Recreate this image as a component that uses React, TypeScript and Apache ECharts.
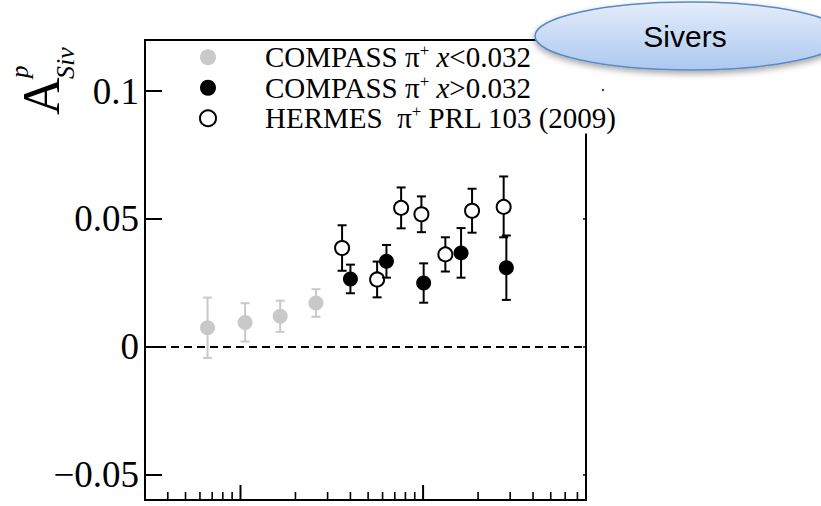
import React, { useEffect, useRef } from 'react';
import * as echarts from 'echarts';

// Axis ranges (x is log-scaled Bjorken x, y is the Sivers asymmetry)
const X_MIN = 0.003;
const X_MAX = 0.78;
const Y_MIN = -0.06;
const Y_MAX = 0.12;

// COMPASS pi+ , x < 0.032
const compassLowX = [0.0066, 0.0106, 0.0165, 0.0259];
const compassLowA = [0.0074, 0.0095, 0.0119, 0.0171];
const compassLowErr = [0.0118, 0.0075, 0.0061, 0.0054];

// COMPASS pi+ , x > 0.032
const compassHighX = [0.04, 0.063, 0.1007, 0.1614, 0.2857];
const compassHighA = [0.0265, 0.0334, 0.0249, 0.0367, 0.0309];
const compassHighErr = [0.0056, 0.0064, 0.0077, 0.0097, 0.0126];

// HERMES pi+ , PRL 103 (2009)
const hermesX = [0.036, 0.056, 0.0758, 0.0979, 0.1324, 0.1854, 0.2762];
const hermesA = [0.0386, 0.0263, 0.0543, 0.0518, 0.0361, 0.0532, 0.0547];
const hermesErr = [0.0089, 0.007, 0.008, 0.007, 0.0067, 0.0086, 0.0119];

const yTickValues = [-0.05, 0, 0.05, 0.1];
const xMajorTicks = [0.01, 0.1];
const xMinorTicks = [
  0.004, 0.005, 0.006, 0.007, 0.008, 0.009,
  0.02, 0.03, 0.04, 0.05, 0.06, 0.07, 0.08, 0.09,
  0.2, 0.3, 0.4, 0.5, 0.6, 0.7,
];

const seriesNames = [
  'COMPASS π+ x<0.032',
  'COMPASS π+ x>0.032',
  'HERMES  π+ PRL 103 (2009)',
];
const legendLabels = [
  'COMPASS π{s|+} {i|x}<0.032',
  'COMPASS π{s|+} {i|x}>0.032',
  'HERMES  π{s|+} PRL 103 (2009)',
];

const GREY = '#c9c9c9';
const SERIF = '"Liberation Serif", "Times New Roman", serif';

function errorBars(xs: number[], ys: number[], es: number[], color: string, z: number) {
  return {
    type: 'custom',
    z,
    silent: true,
    data: xs.map((x, i) => [x, ys[i], es[i]]),
    encode: { x: 0, y: 1 },
    renderItem: (_params: any, api: any) => {
      const x = api.value(0);
      const y = api.value(1);
      const e = api.value(2);
      const hi = api.coord([x, y + e]);
      const lo = api.coord([x, y - e]);
      const cap = 4.5;
      const style = { stroke: color, lineWidth: 2 };
      return {
        type: 'group',
        children: [
          { type: 'line', shape: { x1: hi[0], y1: hi[1], x2: lo[0], y2: lo[1] }, style },
          { type: 'line', shape: { x1: hi[0] - cap, y1: hi[1], x2: hi[0] + cap, y2: hi[1] }, style },
          { type: 'line', shape: { x1: lo[0] - cap, y1: lo[1], x2: lo[0] + cap, y2: lo[1] }, style },
        ],
      };
    },
  };
}

function bottomTicks(values: number[], len: number, width: number) {
  return {
    type: 'custom',
    z: 1,
    silent: true,
    data: values.map((v) => [v, Y_MIN]),
    encode: { x: 0, y: 1 },
    renderItem: (_params: any, api: any) => {
      const p = api.coord([api.value(0), api.value(1)]);
      return {
        type: 'line',
        shape: { x1: p[0], y1: p[1], x2: p[0], y2: p[1] - len },
        style: { stroke: '#000', lineWidth: width },
      };
    },
  };
}

export default function App() {
  const ref = useRef<HTMLDivElement>(null);

  useEffect(() => {
    if (!ref.current) return;
    const chart = echarts.init(ref.current, undefined, { renderer: 'svg' });

    const axisLine = { show: true, onZero: false, lineStyle: { color: '#000', width: 2 } };

    chart.setOption({
      animation: false,
      backgroundColor: '#fff',
      grid: { left: 145, right: 235, top: 40, bottom: 6, containLabel: false },
      xAxis: [
        {
          type: 'log',
          logBase: 10,
          min: X_MIN,
          max: X_MAX,
          position: 'bottom',
          axisLine,
          axisTick: { show: false },
          axisLabel: { show: false },
          splitLine: { show: false },
        },
        {
          type: 'log',
          logBase: 10,
          min: X_MIN,
          max: X_MAX,
          position: 'top',
          axisLine,
          axisTick: { show: false },
          axisLabel: { show: false },
          splitLine: { show: false },
        },
      ],
      yAxis: [
        {
          type: 'value',
          min: Y_MIN,
          max: Y_MAX,
          position: 'left',
          axisLine,
          axisTick: {
            show: true,
            inside: true,
            length: 17,
            customValues: yTickValues,
            lineStyle: { color: '#000', width: 2 },
          },
          axisLabel: {
            show: true,
            customValues: yTickValues,
            margin: 6,
            fontFamily: SERIF,
            fontSize: 37,
            color: '#000',
            padding: [6, 0, 0, 0],
            formatter: (v: number) => (v < 0 ? '\u2212' + String(Math.abs(v)) : String(v)),
          },
          splitLine: { show: false },
        },
        {
          type: 'value',
          min: Y_MIN,
          max: Y_MAX,
          position: 'right',
          axisLine,
          axisTick: {
            show: true,
            inside: true,
            length: 3,
            customValues: yTickValues,
            lineStyle: { color: '#000', width: 1.5 },
          },
          axisLabel: { show: false },
          splitLine: { show: false },
        },
      ],
      legend: {
        orient: 'vertical',
        left: 199,
        top: 42,
        padding: [0, 4, 0, 0],
        itemGap: 0,
        itemWidth: 104,
        itemHeight: 16,
        backgroundColor: '#fff',
        selectedMode: false,
        z: 4,
        data: seriesNames,
        formatter: (name: string) => legendLabels[seriesNames.indexOf(name)],
        textStyle: {
          fontFamily: SERIF,
          fontSize: 29,
          lineHeight: 30.5,
          color: '#000',
          rich: {
            i: { fontFamily: SERIF, fontSize: 29, fontStyle: 'italic', color: '#000', lineHeight: 30.5 },
            s: { fontFamily: SERIF, fontSize: 17, color: '#000', lineHeight: 16, verticalAlign: 'top' },
          },
        },
      },
      series: [
        bottomTicks(xMinorTicks, 8, 1.6),
        bottomTicks(xMajorTicks, 15, 2),
        {
          type: 'line',
          silent: true,
          data: [],
          markLine: {
            silent: true,
            symbol: 'none',
            label: { show: false },
            lineStyle: { color: '#000', width: 2, type: [8, 5] },
            data: [{ yAxis: 0 }],
          },
        },
        errorBars(compassLowX, compassLowA, compassLowErr, GREY, 2),
        errorBars(hermesX, hermesA, hermesErr, '#000', 2),
        errorBars(compassHighX, compassHighA, compassHighErr, '#000', 4),
        {
          name: seriesNames[0],
          type: 'scatter',
          z: 3,
          symbol: 'circle',
          symbolSize: 15,
          itemStyle: { color: GREY, opacity: 1 },
          data: compassLowX.map((x, i) => [x, compassLowA[i]]),
        },
        {
          name: seriesNames[2],
          type: 'scatter',
          z: 3,
          symbol: 'circle',
          symbolSize: 14,
          itemStyle: { color: '#fff', borderColor: '#000', borderWidth: 2, opacity: 1 },
          data: hermesX.map((x, i) => [x, hermesA[i]]),
        },
        {
          name: seriesNames[1],
          type: 'scatter',
          z: 5,
          symbol: 'circle',
          symbolSize: 15,
          itemStyle: { color: '#000', opacity: 1 },
          data: compassHighX.map((x, i) => [x, compassHighA[i]]),
        },
      ],
      graphic: [
        // y-axis title A^p_Siv, reading bottom to top
        {
          type: 'group',
          x: 0,
          y: 0,
          rotation: Math.PI / 2,
          children: [
            {
              type: 'text',
              x: -115,
              y: 41.5,
              style: { text: 'A', fontFamily: SERIF, fontSize: 52, fill: '#000', align: 'left', verticalAlign: 'middle' },
            },
            {
              type: 'text',
              x: -78,
              y: 19,
              style: { text: 'p', fontFamily: SERIF, fontSize: 25, fontStyle: 'italic', fill: '#000', align: 'left', verticalAlign: 'middle' },
            },
            {
              type: 'text',
              x: -79,
              y: 65,
              style: { text: 'Siv', fontFamily: SERIF, fontSize: 26, fontStyle: 'italic', fill: '#000', align: 'left', verticalAlign: 'middle' },
            },
          ],
        },
        // stray speck next to the legend
        {
          type: 'circle',
          shape: { cx: 603, cy: 90, r: 1.2 },
          style: { fill: '#333' },
          z: 50,
        },
        // "Sivers" callout bubble
        {
          type: 'ellipse',
          z: 100,
          shape: { cx: 690, cy: 36, rx: 155, ry: 34 },
          style: {
            fill: new echarts.graphic.LinearGradient(0, 0, 0, 1, [
              { offset: 0, color: '#e4edfb' },
              { offset: 1, color: '#adc8ef' },
            ]),
            stroke: '#5a8ac6',
            lineWidth: 1.5,
            shadowBlur: 6,
            shadowOffsetY: 3,
            shadowColor: 'rgba(0,0,0,0.35)',
          },
        },
        {
          type: 'text',
          z: 101,
          x: 685,
          y: 36,
          style: {
            text: 'Sivers',
            fontFamily: '"Liberation Sans", Arial, sans-serif',
            fontSize: 30,
            fill: '#000',
            align: 'center',
            verticalAlign: 'middle',
          },
        },
      ],
    });

    return () => {
      chart.dispose();
    };
  }, []);

  return (
    <div
      ref={ref}
      style={{ position: 'fixed', left: 0, top: 0, width: 821, height: 506 }}
    />
  );
}
